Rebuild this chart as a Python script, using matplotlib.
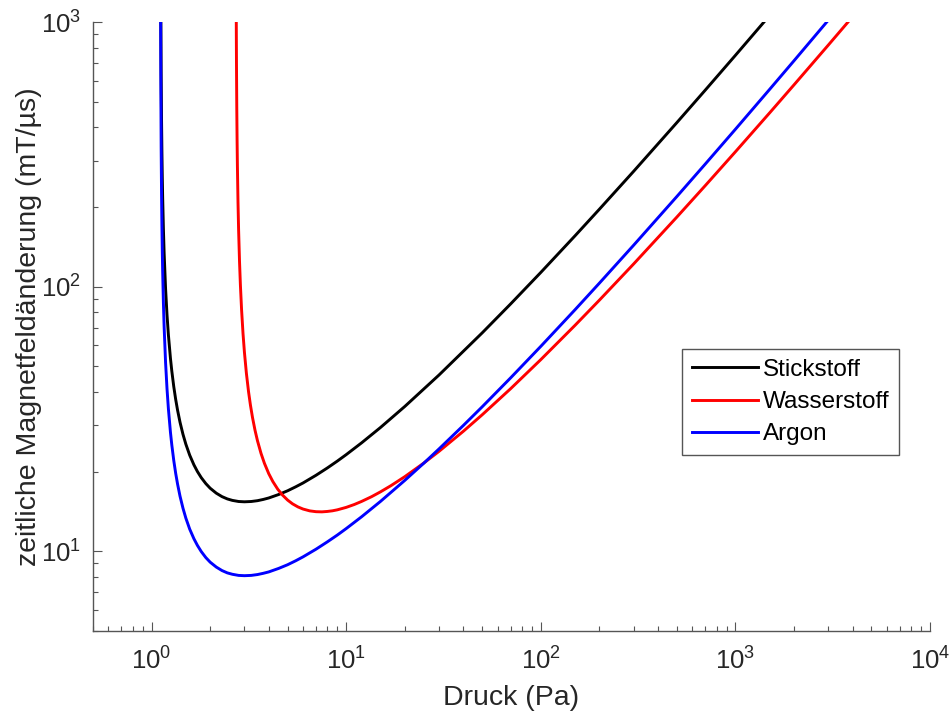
import numpy as np
import matplotlib
matplotlib.use("Agg")
import matplotlib.pyplot as plt
from matplotlib.ticker import LogLocator, NullFormatter

plt.rcParams['font.family'] = ['Liberation Sans', 'DejaVu Sans']
plt.rcParams['mathtext.fontset'] = 'custom'
plt.rcParams['mathtext.rm'] = 'Liberation Sans'
plt.rcParams['mathtext.it'] = 'Liberation Sans'

# -------------------------
# DATA
# -------------------------
druck_n2 = [1.116, 1.12, 1.125, 1.13, 1.135, 1.14, 1.15, 1.16, 1.18, 1.2,
            1.22, 1.25, 1.27, 1.3, 1.33, 1.36, 1.4, 1.45, 1.5, 1.57,
            1.65, 1.72, 1.8, 1.9, 2.0, 2.15, 2.3, 2.45, 2.6, 2.8,
            3.0, 3.25, 3.5, 3.75, 4.0, 4.5, 5, 5.5, 6, 7,
            8, 9, 10, 12, 15, 20, 30, 50, 70, 100,
            150, 200, 300, 500, 700, 1000, 1500]
db_n2 = [1056, 636.9, 427.4, 322.7, 259.9, 218.0, 165.7, 134.3, 98.4, 78.50,
         65.85, 53.67, 48.10, 41.96, 37.51, 34.15, 30.76, 27.68, 25.41, 23.09,
         21.23, 20.03, 18.99, 18.03, 17.32, 16.59, 16.10, 15.78, 15.58, 15.43,
         15.39, 15.43, 15.54, 15.71, 15.91, 16.40, 16.94, 17.53, 18.13, 19.39,
         20.66, 21.93, 23.20, 25.71, 29.38, 35.28, 46.41, 66.97, 86.15, 113.3,
         155.9, 196.4, 273.2, 417.3, 553.8, 749.6, 1061.2]

druck_h2 = [2.723, 2.726, 2.73, 2.74, 2.75, 2.76, 2.78, 2.8, 2.83, 2.86,
            2.9, 2.95, 3.0, 3.07, 3.15, 3.22, 3.3, 3.4, 3.5, 3.65,
            3.8, 4.0, 4.2, 4.45, 4.7, 5.0, 5.3, 5.65, 6, 6.5,
            7, 7.5, 8, 8.5, 9, 10, 11, 12, 13.5, 15,
            17, 20, 25, 30, 40, 50, 70, 100, 150, 200,
            300, 500, 700, 1000, 1500, 2000, 3000, 4000]
db_h2 = [1089, 886.3, 710.6, 476.4, 359.2, 288.9, 208.6, 164.0, 125.0, 101.6,
         81.92, 66.54, 56.48, 47.11, 40.07, 35.74, 32.07, 28.69, 26.19, 23.46,
         21.52, 19.66, 18.35, 17.17, 16.34, 15.62, 15.12, 14.72, 14.45, 14.22,
         14.12, 14.10, 14.15, 14.23, 14.35, 14.66, 15.03, 15.44, 16.09, 16.78,
         17.72, 19.15, 21.54, 23.88, 28.44, 32.83, 41.20, 53.05, 71.53, 89.00,
         122.0, 183.4, 241.2, 323.8, 454.5, 579.7, 819.2, 1049.2]

druck_ar = [1.113, 1.1145, 1.116, 1.12, 1.125, 1.13, 1.135, 1.14, 1.15, 1.16,
            1.18, 1.2, 1.22, 1.25, 1.27, 1.3, 1.33, 1.36, 1.4, 1.45,
            1.5, 1.57, 1.65, 1.72, 1.8, 1.9, 2.0, 2.15, 2.3, 2.45,
            2.6, 2.8, 3.0, 3.25, 3.5, 3.75, 4.0, 4.5, 5, 5.5,
            6, 7, 8, 9, 10, 12, 15, 20, 25, 30,
            40, 50, 70, 100, 150, 200, 300, 500, 700, 1000,
            1500, 2000, 3000]
db_ar = [1105, 738.2, 554.9, 334.7, 224.6, 169.6, 136.6, 114.6, 87.07, 70.57,
         51.71, 41.25, 34.60, 28.20, 25.28, 22.05, 19.71, 17.95, 16.16, 14.55,
         13.35, 12.13, 11.16, 10.53, 9.98, 9.47, 9.10, 8.72, 8.46, 8.29,
         8.19, 8.11, 8.09, 8.11, 8.17, 8.26, 8.36, 8.62, 8.90, 9.21,
         9.53, 10.19, 10.86, 11.52, 12.19, 13.51, 15.44, 18.54, 21.51, 24.39,
         29.91, 35.19, 45.27, 59.54, 81.92, 103.2, 143.6, 219.3, 291.0, 393.9,
         557.7, 715.0, 1017.5]

labels = ["Stickstoff", "Wasserstoff", "Argon"]
farben = ["black", "red", "blue"]

# -------------------------
# PLOT
# -------------------------
fig = plt.figure(figsize=(9.49, 7.12), dpi=100)
ax = fig.add_axes([0.098, 0.1138, 0.882, 0.855])

for x, y, lab, c in zip([druck_n2, druck_h2, druck_ar], [db_n2, db_h2, db_ar], labels, farben):
    ax.plot(x, y, color=c, lw=2.1, label=lab)

ax.set_xscale("log")
ax.set_yscale("log")
ax.set_xlim(0.5, 1e4)
ax.set_ylim(5, 1e3)

ax.xaxis.set_minor_locator(LogLocator(base=10, subs=np.arange(2, 10), numticks=20))
ax.yaxis.set_minor_locator(LogLocator(base=10, subs=np.arange(2, 10), numticks=20))
ax.xaxis.set_minor_formatter(NullFormatter())
ax.yaxis.set_minor_formatter(NullFormatter())

axcol = "#262626"
for s in ["top", "right"]:
    ax.spines[s].set_visible(False)
for s in ["left", "bottom"]:
    ax.spines[s].set_color("#555555")
    ax.spines[s].set_linewidth(1.0)

ax.tick_params(which="major", direction="in", length=6.5, width=0.8, color="#555555",
               labelsize=18.5, labelcolor=axcol)
ax.tick_params(which="minor", direction="in", length=3.5, width=0.8, color="#555555")
ax.tick_params(axis="x", which="major", pad=12)
ax.tick_params(axis="y", which="major", pad=8.5)

ax.set_xlabel("Druck (Pa)", fontsize=20.5, color=axcol, labelpad=7)
ax.set_ylabel("zeitliche Magnetfeldänderung (mT/µs)", fontsize=20.5, color=axcol, labelpad=-1)

leg = ax.legend(loc="upper left", bbox_to_anchor=(0.704, 0.463), fontsize=17.5,
                fancybox=False, framealpha=1, edgecolor="#555555", borderaxespad=0,
                handlelength=2.7, labelspacing=0.42, borderpad=0.4, handletextpad=0.2)
leg.get_frame().set_linewidth(1.0)

fig.savefig("out.png", dpi=100)
